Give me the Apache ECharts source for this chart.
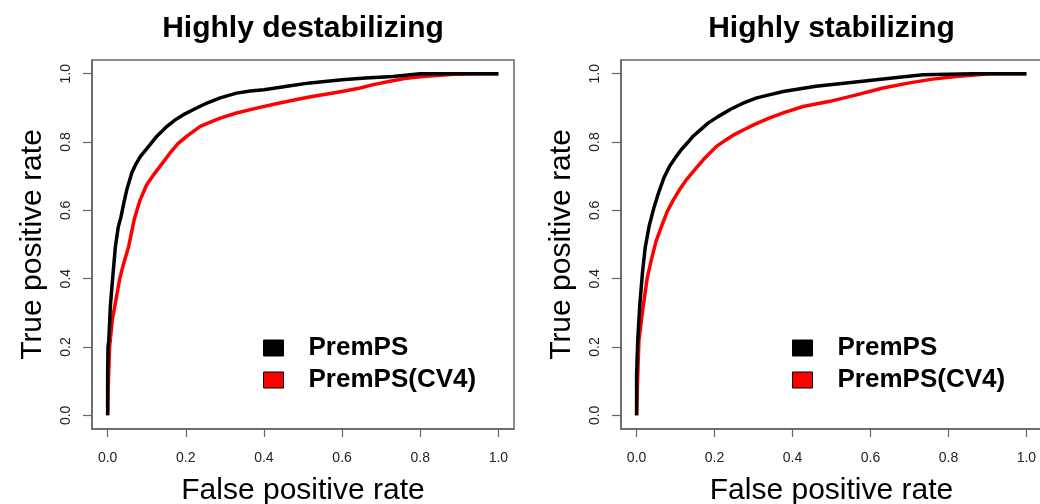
<!DOCTYPE html>
<html><head><meta charset="utf-8">
<script src="https://cdn.jsdelivr.net/npm/echarts@6/dist/echarts.min.js"></script>
<style>html,body{margin:0;padding:0;background:#fff}#c{width:1040px;height:504px}</style>
</head><body><div id="c"></div>
<script>
const panelTitles = ['Highly destabilizing', 'Highly stabilizing'];
const seriesNames = ['PremPS', 'PremPS(CV4)'];
const tickValues = [0, 0.2, 0.4, 0.6, 0.8, 1.0];
const xTitle = 'False positive rate';
const yTitle = 'True positive rate';

// Left panel: Highly destabilizing
const destabPremPS = [[0,0],[0,0.12],[0.001,0.2],[0.003,0.22],[0.007,0.32],[0.014,0.417],[0.02,0.495],[0.027,0.55],[0.034,0.58],[0.042,0.625],[0.049,0.66],[0.062,0.71],[0.073,0.737],[0.084,0.758],[0.105,0.787],[0.126,0.817],[0.152,0.846],[0.172,0.864],[0.194,0.88],[0.22,0.895],[0.254,0.914],[0.288,0.929],[0.33,0.943],[0.365,0.949],[0.40,0.953],[0.459,0.963],[0.518,0.973],[0.60,0.982],[0.66,0.987],[0.73,0.992],[0.80,1.0],[1.0,1.0]];
const destabCV4 = [[0,0],[0.002,0.1],[0.005,0.2],[0.012,0.28],[0.02,0.33],[0.031,0.4],[0.04,0.44],[0.054,0.495],[0.068,0.573],[0.083,0.63],[0.1,0.675],[0.115,0.70],[0.135,0.73],[0.16,0.768],[0.18,0.795],[0.203,0.817],[0.237,0.846],[0.26,0.857],[0.288,0.87],[0.33,0.885],[0.373,0.897],[0.44,0.914],[0.49,0.926],[0.527,0.934],[0.57,0.942],[0.61,0.95],[0.646,0.958],[0.68,0.968],[0.723,0.978],[0.76,0.986],[0.80,0.991],[0.885,0.998],[0.936,1.0],[1.0,1.0]];

// Right panel: Highly stabilizing
const stabPremPS = [[0,0],[0,0.12],[0.003,0.22],[0.008,0.32],[0.015,0.417],[0.022,0.49],[0.032,0.553],[0.045,0.61],[0.056,0.65],[0.07,0.695],[0.085,0.73],[0.1,0.755],[0.115,0.778],[0.13,0.797],[0.145,0.817],[0.165,0.837],[0.184,0.856],[0.21,0.875],[0.24,0.895],[0.27,0.912],[0.308,0.929],[0.34,0.938],[0.376,0.948],[0.42,0.956],[0.46,0.963],[0.538,0.973],[0.615,0.982],[0.68,0.99],[0.735,0.997],[0.863,1.0],[1.0,1.0]];
const stabCV4 = [[0,0],[0.003,0.12],[0.006,0.22],[0.017,0.32],[0.027,0.4],[0.038,0.456],[0.05,0.51],[0.064,0.553],[0.078,0.595],[0.094,0.63],[0.11,0.66],[0.128,0.69],[0.15,0.72],[0.171,0.748],[0.188,0.768],[0.205,0.787],[0.225,0.803],[0.248,0.82],[0.275,0.836],[0.30,0.85],[0.34,0.87],[0.376,0.885],[0.427,0.904],[0.496,0.919],[0.564,0.938],[0.632,0.958],[0.70,0.973],[0.76,0.984],[0.82,0.992],[0.906,1.0],[1.0,1.0]];

const panelData = [[destabPremPS, destabCV4], [stabPremPS, stabCV4]];
const lineColors = ['#000000', '#ff0000'];

const FONT = 'Liberation Sans, Arial, sans-serif';
const grids = [
  {left: 92, top: 60, width: 422, height: 369},
  {left: 621, top: 60, width: 421, height: 369}
];
const gridOpts = grids.map(g => Object.assign({show: true, borderColor: '#666', borderWidth: 1.5, backgroundColor: 'transparent', outerBoundsMode: 'none', containLabel: false}, g));

function xAxis(i) {
  return {
    type: 'value', gridIndex: i, min: -0.04, max: 1.04,
    name: xTitle, nameLocation: 'middle', nameGap: 47, nameMoveOverlap: false,
    nameTextStyle: {fontFamily: FONT, fontSize: 30, color: '#000'},
    axisLine: {show: true, onZero: false, lineStyle: {color: '#666', width: 1.5}},
    splitLine: {show: false},
    axisTick: {show: true, inside: false, length: 8, customValues: tickValues, lineStyle: {color: '#666', width: 1.2}},
    axisLabel: {customValues: tickValues, margin: 22, fontFamily: FONT, fontSize: 14, color: '#222', formatter: v => v.toFixed(1)}
  };
}
function yAxis(i) {
  return {
    type: 'value', gridIndex: i, min: -0.04, max: 1.04,
    name: yTitle, nameLocation: 'middle', nameGap: 44, nameMoveOverlap: false,
    nameTextStyle: {fontFamily: FONT, fontSize: 30, color: '#000'},
    axisLine: {show: true, onZero: false, lineStyle: {color: '#666', width: 1.5}},
    splitLine: {show: false},
    axisTick: {show: true, inside: false, length: 9, customValues: tickValues, lineStyle: {color: '#666', width: 1.2}},
    axisLabel: {customValues: tickValues, rotate: 90, margin: 19, fontFamily: FONT, fontSize: 14, color: '#222', formatter: v => v.toFixed(1)}
  };
}

const series = [];
panelData.forEach((pair, p) => {
  pair.forEach((d, k) => {
    series.push({
      name: seriesNames[k], type: 'line', xAxisIndex: p, yAxisIndex: p,
      data: d, symbol: 'none', smooth: false, z: 3 - k,
      lineStyle: {color: lineColors[k], width: 3.5, join: 'round'},
      itemStyle: {color: lineColors[k]}
    });
  });
});

const legends = [263, 792].map(l => ({
  data: seriesNames, left: l, top: 335, orient: 'vertical', itemGap: 6, padding: 0,
  icon: 'rect', itemWidth: 20, itemHeight: 16,
  itemStyle: {borderColor: '#000', borderWidth: 1},
  selectedMode: false,
  textStyle: {fontFamily: FONT, fontSize: 26, fontWeight: 'bold', color: '#000', padding: [0, 0, 0, 20], lineHeight: 26}
}));

const titles = panelTitles.map((t, i) => ({
  text: t, left: grids[i].left + grids[i].width / 2, top: 14, textAlign: 'center', padding: 0,
  textStyle: {fontFamily: FONT, fontSize: 30, fontWeight: 'bold', color: '#000'}
}));

const chart = echarts.init(document.getElementById('c'), null, {renderer: 'canvas'});
chart.setOption({
  animation: false,
  backgroundColor: '#fff',
  title: titles,
  legend: legends,
  grid: gridOpts,
  xAxis: [xAxis(0), xAxis(1)],
  yAxis: [yAxis(0), yAxis(1)],
  series: series
});
</script></body></html>
